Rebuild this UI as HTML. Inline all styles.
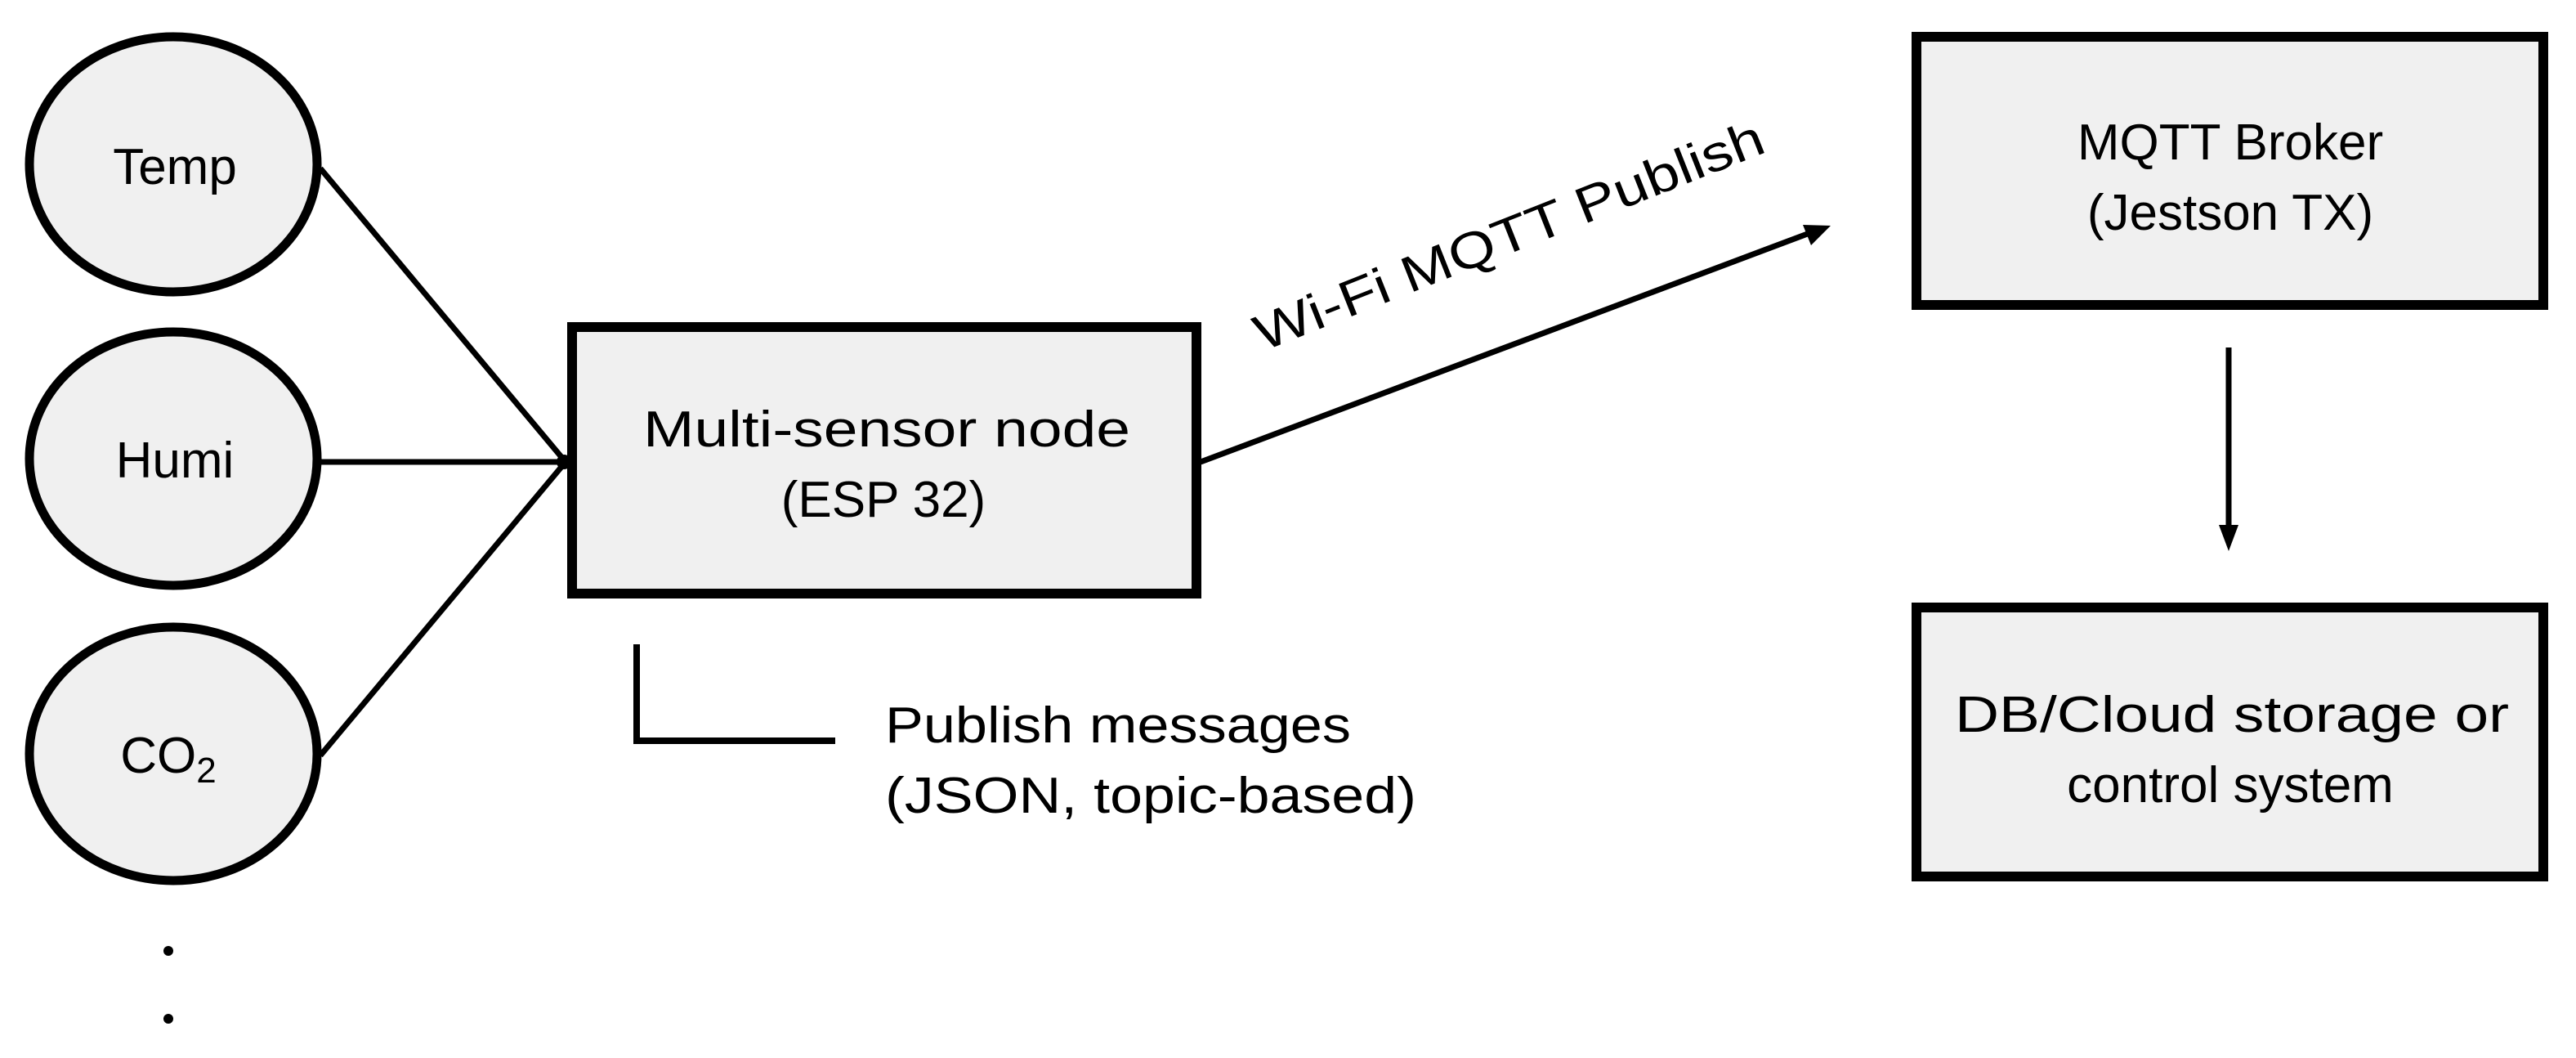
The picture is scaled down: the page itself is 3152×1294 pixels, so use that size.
<!DOCTYPE html>
<html><head><meta charset="utf-8"><style>html,body{margin:0;padding:0;background:#fff}svg{display:block}</style></head>
<body>
<svg width="3152" height="1294" viewBox="0 0 3152 1294" xmlns="http://www.w3.org/2000/svg" font-family="Liberation Sans, sans-serif" font-size="62" fill="#000">
<defs><marker id="ah" markerWidth="8" markerHeight="8" refX="7" refY="4" orient="auto" markerUnits="userSpaceOnUse" viewBox="0 0 8 8"><path d="M0,0 L8,4 L0,8 z"/></marker></defs>
<g stroke="#000" stroke-width="7" fill="none">
<line x1="392" y1="206" x2="692" y2="565"/>
<line x1="392" y1="565" x2="692" y2="565"/>
<line x1="392" y1="924" x2="692" y2="565"/>
<line x1="1469" y1="565" x2="2225" y2="281"/>
<line x1="2727" y1="425" x2="2727" y2="650"/>
<polyline points="779,788 779,906 1022,906" stroke-width="8"/>
</g>
<polygon points="2240,276 2206,275 2216,300" fill="#000"/>
<polygon points="2727,674 2715,642 2739,642" fill="#000"/>
<circle cx="690" cy="565" r="9" fill="#000"/>
<g stroke="#000" stroke-width="11" fill="#f0f0f0">
<ellipse cx="212" cy="201" rx="176" ry="156"/>
<ellipse cx="212" cy="561" rx="176" ry="155"/>
<ellipse cx="212" cy="922" rx="176" ry="155"/>
<rect x="700" y="400" width="764" height="326" stroke-width="12"/>
<rect x="2345" y="45" width="767" height="328" stroke-width="12"/>
<rect x="2345" y="743" width="767" height="329" stroke-width="12"/>
</g>
<g text-anchor="middle">
<text x="214" y="225">Temp</text>
<text x="214" y="584">Humi</text>
<text x="206" y="945">CO<tspan font-size="44" dy="12">2</tspan></text>
<text x="1085" y="546" textLength="596" lengthAdjust="spacingAndGlyphs">Multi-sensor node</text>
<text x="1081" y="632">(ESP 32)</text>
<text x="2729" y="195">MQTT Broker</text>
<text x="2729" y="281">(Jestson TX)</text>
<text x="2731" y="895" textLength="678" lengthAdjust="spacingAndGlyphs">DB/Cloud storage or</text>
<text x="2729" y="981">control system</text>
</g>
<text x="1083" y="908" textLength="570" lengthAdjust="spacingAndGlyphs">Publish messages</text>
<text x="1083" y="994" textLength="650" lengthAdjust="spacingAndGlyphs">(JSON, topic-based)</text>
<text transform="translate(1545,430) rotate(-21.6)" textLength="665" lengthAdjust="spacingAndGlyphs">Wi-Fi MQTT Publish</text>
<circle cx="206" cy="1163" r="6"/>
<circle cx="206" cy="1246" r="6"/>
</svg>
</body></html>
